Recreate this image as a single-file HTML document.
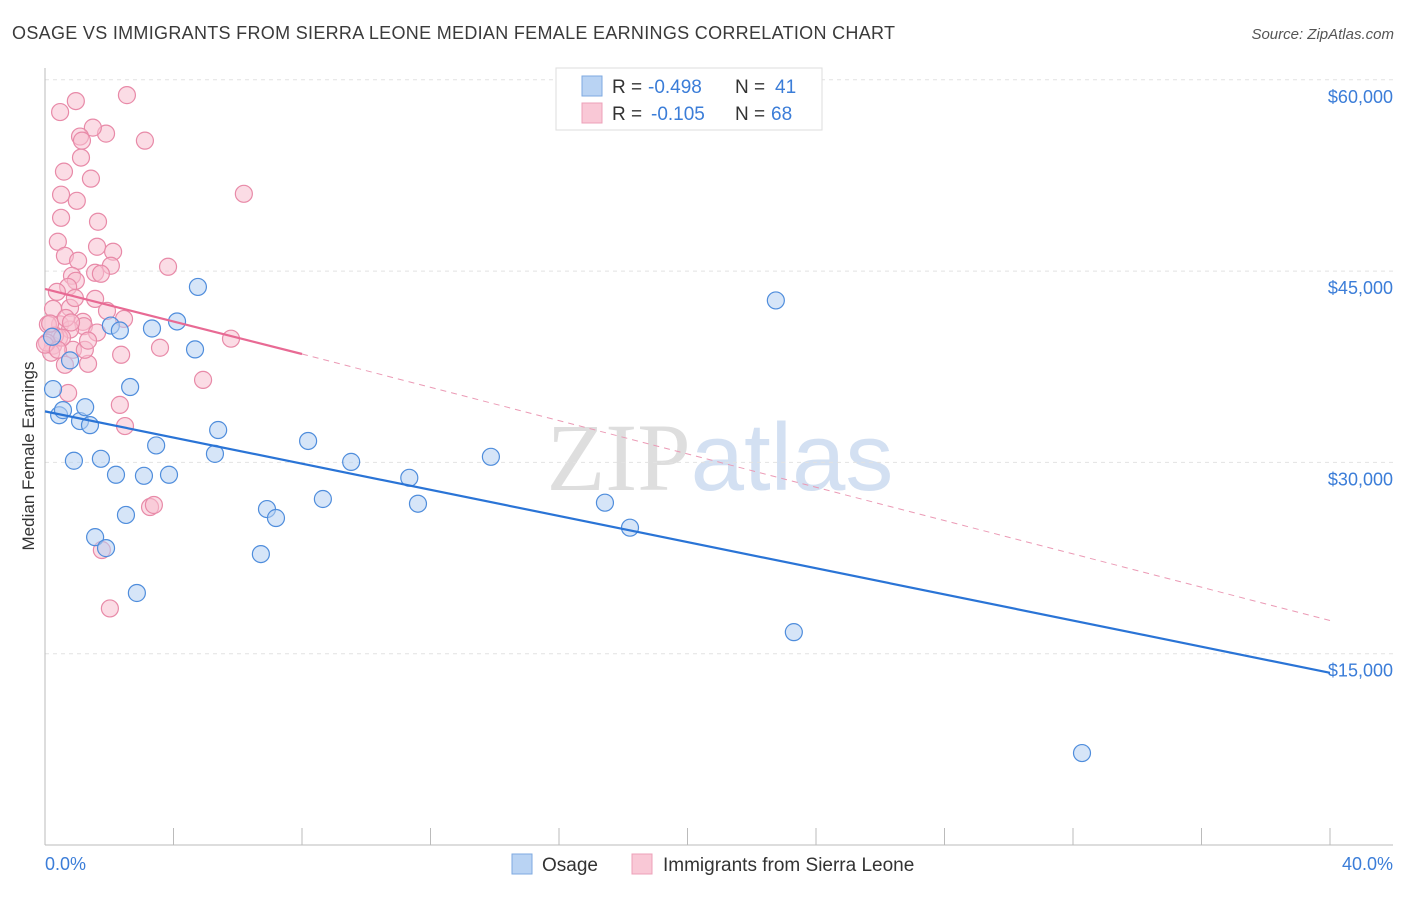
<!DOCTYPE html>
<html><head><meta charset="utf-8"><style>
body{margin:0;background:#fff;font-family:"Liberation Sans",sans-serif}
svg text{font-family:"Liberation Sans",sans-serif}
</style></head><body>
<svg id="chart" width="1406" height="892" xmlns="http://www.w3.org/2000/svg">
<text x="12" y="39" font-size="18" fill="#3a3a3a" textLength="883" lengthAdjust="spacing">OSAGE VS IMMIGRANTS FROM SIERRA LEONE MEDIAN FEMALE EARNINGS CORRELATION CHART</text>
<text x="1394" y="39" font-size="15" fill="#555" text-anchor="end" font-style="italic">Source: ZipAtlas.com</text>
<text x="720" y="490" font-size="96" text-anchor="middle"><tspan fill="#dedede" font-family="Liberation Serif">ZIP</tspan><tspan fill="#d3e0f2">atlas</tspan></text>
<g id="grid"></g>
<line x1="45" y1="68" x2="45" y2="845" stroke="#bbb"/>
<line x1="45" y1="845" x2="1393" y2="845" stroke="#bbb"/>
<text transform="translate(34,456) rotate(-90)" font-size="17" fill="#333" text-anchor="middle">Median Female Earnings</text>
<text x="45" y="870" font-size="18" fill="#3b7dd8">0.0%</text>
<text x="1393" y="870" font-size="18" fill="#3b7dd8" text-anchor="end">40.0%</text>
<g id="pts"></g>
<g id="lines"></g>
<g>
<rect x="556" y="68" width="266" height="62" fill="#fff" stroke="#ddd"/>
<rect x="582" y="76" width="20" height="20" fill="#b9d3f3" stroke="#7ea9e0"/>
<rect x="582" y="103" width="20" height="20" fill="#f9c8d6" stroke="#eda0b8"/>
<text x="612" y="93" font-size="19" fill="#333">R =</text>
<text x="648" y="93" font-size="19" fill="#3b7dd8">-0.498</text>
<text x="735" y="93" font-size="19" fill="#333">N =</text>
<text x="775" y="93" font-size="19" fill="#3b7dd8">41</text>
<text x="612" y="120" font-size="19" fill="#333">R =</text>
<text x="651" y="120" font-size="19" fill="#3b7dd8">-0.105</text>
<text x="735" y="120" font-size="19" fill="#333">N =</text>
<text x="771" y="120" font-size="19" fill="#3b7dd8">68</text>
</g>
<g>
<rect x="512" y="854" width="20" height="20" fill="#b9d3f3" stroke="#7ea9e0"/>
<text x="542" y="871" font-size="19" fill="#333">Osage</text>
<rect x="632" y="854" width="20" height="20" fill="#f9c8d6" stroke="#eda0b8"/>
<text x="663" y="871" font-size="19" fill="#333">Immigrants from Sierra Leone</text>
</g>
</svg>
<script>
const yTicks=[15000,30000,45000,60000];
const yTickLabels=["$15,000","$30,000","$45,000","$60,000"];
const xTicks=[0,4,8,12,16,20,24,28,32,36,40];
const osageX=[0.25,0.44,0.56,0.78,0.9,1.09,1.25,1.4,1.56,1.74,1.9,2.05,2.21,2.33,2.52,2.65,2.86,3.08,3.33,3.46,3.86,4.11,4.67,4.76,5.29,5.39,6.72,6.91,7.19,8.19,8.65,9.53,11.34,11.61,13.88,17.43,18.21,22.75,23.31,32.28,0.22];
const osageY=[35750,33700,34100,38000,30130,33240,34330,32920,24140,30280,23280,40730,29030,40340,25880,35910,19760,28950,40500,31330,29030,41050,38860,43760,30670,32540,22810,26340,25640,31680,27130,30040,28790,26760,30440,26840,24880,42700,16690,7210,39850];
const slX=[2.55,0.96,0.47,3.11,1.9,1.49,1.09,1.15,1.12,0.59,1.43,0.5,0.99,6.19,0.5,1.65,0.4,1.62,2.12,0.62,1.03,2.05,1.56,3.83,1.74,0.84,0.96,0.72,0.37,1.56,1.93,0.25,2.46,0.78,1.18,0.47,1.21,0.09,0.78,1.62,5.79,0.44,0.25,3.58,2.37,0.87,1.34,0.19,0.62,4.92,2.33,0.72,2.49,3.27,3.39,1.77,2.02,0.31,0.53,0.06,0.16,0.65,0.93,0,0.4,1.24,0.81,1.34];
const slY=[58800,58330,57470,55230,55780,56250,55550,55230,53900,52800,52250,50990,50510,51060,49180,48870,47300,46910,46520,46200,45810,45420,44870,45340,44790,44630,44240,43760,43370,42820,41880,42040,41250,42120,41020,40820,40680,40820,40420,40180,39700,39780,39150,38990,38440,38830,37730,38600,37650,36470,34510,35440,32850,26500,26660,23130,18550,39940,39780,39390,40890,41320,42890,39230,38830,38830,40970,39550];
const trendOsage=[[0,34000],[40,13500]];
const trendSL=[[0,43600],[8,38500],[40,17600]];
const X=v=>45+v*32.125, Y=v=>845-v/15000*191.3;
const NS="http://www.w3.org/2000/svg";
const grid=document.getElementById('grid');
yTicks.forEach((t,i)=>{
 const l=document.createElementNS(NS,'line');
 
 
 l.setAttribute('x1',45);l.setAttribute('x2',1393);l.setAttribute('y1',Y(t));l.setAttribute('y2',Y(t));
 l.setAttribute('stroke','#e2e2e2');l.setAttribute('stroke-dasharray','4,4');grid.appendChild(l);
 const tx=document.createElementNS(NS,'text');
 
 
 tx.setAttribute('x',1393);tx.setAttribute('y',Y(t)+23);tx.setAttribute('text-anchor','end');
 tx.setAttribute('font-size','18');tx.setAttribute('fill','#3b7dd8');tx.textContent=yTickLabels[i];grid.appendChild(tx);
});
xTicks.forEach(t=>{
 const l=document.createElementNS(NS,'line');
 
 
 l.setAttribute('x1',X(t));l.setAttribute('x2',X(t));l.setAttribute('y1',828);l.setAttribute('y2',845);
 l.setAttribute('stroke','#bbb');grid.appendChild(l);
});
const pts=document.getElementById('pts');
function dot(x,y,f,s,name){
 const c=document.createElementNS(NS,'circle');
 
 
 c.setAttribute('cx',X(x));c.setAttribute('cy',Y(y));c.setAttribute('r',8.5);
 c.setAttribute('fill',f);c.setAttribute('fill-opacity','0.55');c.setAttribute('stroke',s);c.setAttribute('stroke-width','1.2');
 pts.appendChild(c);
}
slX.forEach((x,i)=>dot(x,slY[i],'#f7bfd0','#e88aa8','sierra-leone-point'));
osageX.forEach((x,i)=>dot(x,osageY[i],'#b5d0f3','#4f8ddc','osage-point'));
const lines=document.getElementById('lines');
function ln(a,b,col,w,dash,name){
 const l=document.createElementNS(NS,'line');
 
 
 l.setAttribute('x1',X(a[0]));l.setAttribute('y1',Y(a[1]));l.setAttribute('x2',X(b[0]));l.setAttribute('y2',Y(b[1]));
 l.setAttribute('stroke',col);l.setAttribute('stroke-width',w);if(dash)l.setAttribute('stroke-dasharray',dash);
 lines.appendChild(l);
}
ln(trendOsage[0],trendOsage[1],'#2a74d6',2.2,null,'osage-trend-line');
ln(trendSL[0],trendSL[1],'#e86a94',2.2,null,'sierra-leone-trend-line');
ln(trendSL[1],trendSL[2],'#eb9ab5',1,'6,5','sierra-leone-trend-extension');
</script>
</body></html>
